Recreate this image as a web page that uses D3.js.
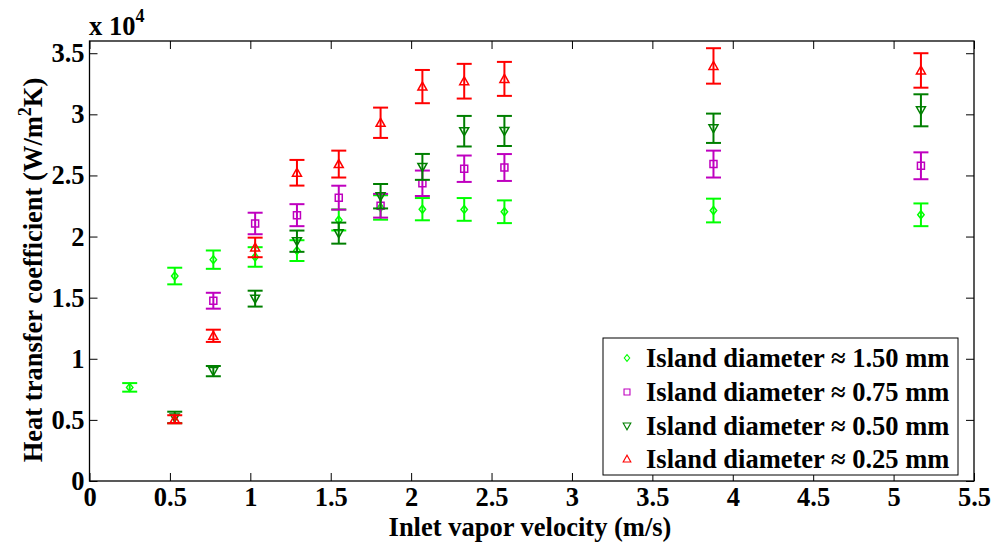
<!DOCTYPE html>
<html><head><meta charset="utf-8">
<script src="https://cdn.jsdelivr.net/npm/d3@7"></script>
<style>
html,body{margin:0;padding:0;background:#fff;}
svg text{font-family:"Liberation Serif","Times New Roman",serif;font-weight:bold;fill:#000;}
</style></head>
<body><svg id="chart" width="1000" height="544"></svg>
<script>
// ---- data (values in units of 10^4 W/m^2K) ----
const velocity = [0.25, 0.53, 0.77, 1.03, 1.29, 1.55, 1.81, 2.07, 2.33, 2.58, 3.88, 5.17];
const velocityB = [0.53, 0.77, 1.03, 1.29, 1.55, 1.81, 2.07, 2.33, 2.58, 3.88, 5.17];
const velocityC = [0.77, 1.03, 1.29, 1.55, 1.81, 2.07, 2.33, 2.58, 3.88, 5.17];

const h150 = [0.766, 1.677, 1.811, 1.833, 1.885, 2.136, 2.238, 2.224, 2.222, 2.203, 2.213, 2.178];
const e150 = [0.035, 0.068, 0.075, 0.080, 0.085, 0.086, 0.100, 0.091, 0.093, 0.093, 0.097, 0.093];
const h075 = [1.475, 2.107, 2.175, 2.318, 2.252, 2.436, 2.555, 2.565, 2.593, 2.579];
const e075 = [0.065, 0.088, 0.090, 0.098, 0.097, 0.104, 0.108, 0.110, 0.110, 0.110];
const h050 = [0.520, 0.899, 1.492, 1.962, 2.028, 2.330, 2.570, 2.862, 2.864, 2.886, 3.033];
const e050 = [0.047, 0.042, 0.065, 0.087, 0.086, 0.100, 0.106, 0.125, 0.123, 0.120, 0.131];
const h025 = [0.505, 1.188, 1.911, 2.522, 2.593, 2.931, 3.227, 3.271, 3.290, 3.396, 3.359];
const e025 = [0.033, 0.050, 0.080, 0.105, 0.110, 0.124, 0.136, 0.142, 0.139, 0.145, 0.141];

const seriesNames = ["Island diameter \u2248 1.50 mm", "Island diameter \u2248 0.75 mm",
                     "Island diameter \u2248 0.50 mm", "Island diameter \u2248 0.25 mm"];
const seriesColors = ["#00ff00", "#bf00bf", "#007f00", "#ff0000"];
const seriesMarkers = ["diamond", "square", "down", "up"];

const xTicks = [0, 0.5, 1, 1.5, 2, 2.5, 3, 3.5, 4, 4.5, 5, 5.5];
const yTicks = [0, 0.5, 1, 1.5, 2, 2.5, 3, 3.5];

const series = [
  {x: velocity, y: h150, e: e150},
  {x: velocityC, y: h075, e: e075},
  {x: velocityB, y: h050, e: e050},
  {x: velocityB, y: h025, e: e025}
].map((s, i) => ({...s, name: seriesNames[i], color: seriesColors[i], marker: seriesMarkers[i]}));

// ---- layout ----
const L = 89.5, R = 974, T = 41, B = 481;
const x = d3.scaleLinear().domain([0, 5.5]).range([L, R]);
const y = d3.scaleLinear().domain([0, 3.6]).range([B, T]);
const svg = d3.select("#chart");
const FS = 26.5;

function markerPath(type) {
  switch (type) {
    case "diamond": return "M0,-4L3.2,0L0,4L-3.2,0Z";
    case "square": return "M-3.5,-3.5H3.5V3.5H-3.5Z";
    case "down": return "M-4.5,-3.5L4.5,-3.5L0,4.5Z";
    case "up": return "M-4.5,3.5L4.5,3.5L0,-4.5Z";
  }
}

// ---- axes ----
const tickLen = 8;
svg.append("g").attr("transform", `translate(0,${B})`)
  .call(d3.axisBottom(x).tickValues(xTicks).tickSize(-tickLen).tickPadding(6).tickFormat(d3.format("")))
  .call(g => g.select(".domain").remove())
  .call(g => g.selectAll("text").attr("font-size", FS).attr("dy", "0.71em"));
svg.append("g").attr("transform", `translate(0,${T})`)
  .call(d3.axisTop(x).tickValues(xTicks).tickSize(-tickLen).tickFormat(""))
  .call(g => g.select(".domain").remove());
svg.append("g").attr("transform", `translate(${L},0)`)
  .call(d3.axisLeft(y).tickValues(yTicks).tickSize(-tickLen).tickPadding(5).tickFormat(d3.format("")))
  .call(g => g.select(".domain").remove())
  .call(g => g.selectAll("text").attr("font-size", FS));
svg.append("g").attr("transform", `translate(${R},0)`)
  .call(d3.axisRight(y).tickValues(yTicks).tickSize(-tickLen).tickFormat(""))
  .call(g => g.select(".domain").remove());
svg.selectAll(".tick line").attr("stroke", "#000").attr("stroke-width", 1);
svg.selectAll(".tick text").attr("font-family", '"Liberation Serif",serif').attr("font-weight", "bold");

svg.append("rect").attr("x", L).attr("y", T).attr("width", R - L).attr("height", B - T)
  .attr("fill", "none").attr("stroke", "#000").attr("stroke-width", 1.3);

// ---- series ----
const capW = 7.5;
series.forEach(s => {
  const g = svg.append("g");
  s.x.forEach((xv, i) => {
    const cx = x(xv), yv = s.y[i], ev = s.e[i];
    const y1 = y(yv - ev), y2 = y(yv + ev);
    g.append("line").attr("x1", cx).attr("x2", cx).attr("y1", y1).attr("y2", y2)
      .attr("stroke", s.color).attr("stroke-width", 2);
    [y1, y2].forEach(yy => g.append("line").attr("x1", cx - capW).attr("x2", cx + capW)
      .attr("y1", yy).attr("y2", yy).attr("stroke", s.color).attr("stroke-width", 2));
    g.append("path").attr("d", markerPath(s.marker))
      .attr("transform", `translate(${cx},${y(yv)})`)
      .attr("fill", "none").attr("stroke", s.color).attr("stroke-width", 1.5);
  });
});

// ---- labels ----
svg.append("text").attr("x", 530).attr("y", 536).attr("text-anchor", "middle")
  .attr("font-size", FS).text("Inlet vapor velocity (m/s)");

const yl = svg.append("text").attr("transform", `translate(42,270) rotate(-90)`)
  .attr("text-anchor", "middle").attr("font-size", FS);
yl.append("tspan").text("Heat transfer coefficient (W/m");
yl.append("tspan").attr("dy", -11).attr("font-size", 18).text("2");
yl.append("tspan").attr("dy", 11).text("K)");

const ex = svg.append("text").attr("x", 89).attr("y", 35).attr("font-size", FS);
ex.append("tspan").text("x 10");
ex.append("tspan").attr("dy", -13).attr("font-size", 18).text("4");

// ---- legend ----
const lg = svg.append("g");
lg.append("rect").attr("x", 603).attr("y", 338).attr("width", 355).attr("height", 137)
  .attr("fill", "#fff").attr("stroke", "#000").attr("stroke-width", 1);
const rowY = [358, 392, 426, 459];
series.forEach((s, i) => {
  lg.append("path").attr("d", markerPath(s.marker))
    .attr("transform", `translate(627,${rowY[i]}) scale(0.85)`)
    .attr("fill", "none").attr("stroke", s.color).attr("stroke-width", 1.3);
  lg.append("text").attr("x", 646).attr("y", rowY[i]).attr("dy", "0.35em")
    .attr("font-size", FS).text(s.name);
});
</script></body></html>
